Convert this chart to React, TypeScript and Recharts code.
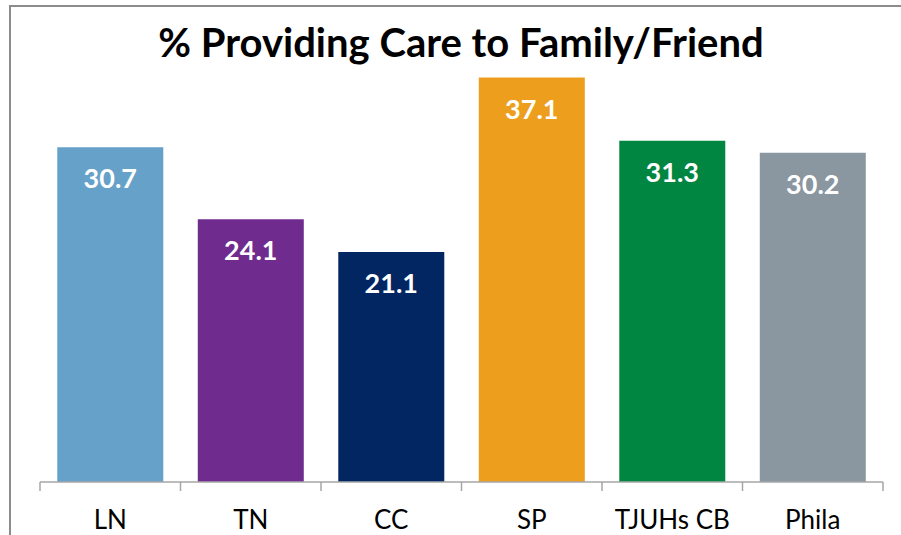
import { BarChart, Bar, XAxis, YAxis, Cell, LabelList } from "recharts";

const categories = ["LN", "TN", "CC", "SP", "TJUHs CB", "Phila"];
const percents = [30.7, 24.1, 21.1, 37.1, 31.3, 30.2];
const barColors = ["#65a1c9", "#6f2c8e", "#012662", "#ed9e1c", "#008641", "#8a96a0"];

const data = categories.map((name, i) => ({ name, value: percents[i] }));

const FONT = "Lato, 'Open Sans', sans-serif";
const AXIS_GREY = "#a6a6a6";

function ValueLabel(props: any) {
  const { x, y, width, value } = props;
  return (
    <text
      x={x + width / 2}
      y={y + 41}
      textAnchor="middle"
      fill="#ffffff"
      fontFamily={FONT}
      fontWeight={700}
      fontSize={27}
    >
      {value}
    </text>
  );
}

// category label plus the tick marks at the band edges
function CategoryTick(props: any) {
  const { x, y, payload } = props;
  const half = payload.offset ?? 0;
  const isLast = payload.index === categories.length - 1;
  return (
    <g>
      <line x1={x - half} x2={x - half} y1={y} y2={y + 9} stroke={AXIS_GREY} strokeWidth={1.5} />
      {isLast && (
        <line x1={x + half} x2={x + half} y1={y} y2={y + 9} stroke={AXIS_GREY} strokeWidth={1.5} />
      )}
      <text x={x} y={y + 47} textAnchor="middle" fontFamily={FONT} fontSize={26} fill="#000">
        {payload.value}
      </text>
    </g>
  );
}

export default function App() {
  return (
    <div
      style={{
        position: "absolute",
        left: 0,
        top: 0,
        width: 901,
        height: 535,
        overflow: "hidden",
        background: "#fff",
      }}
    >
      <div
        style={{
          position: "absolute",
          left: 9,
          top: 5,
          width: 920,
          height: 560,
          border: "2px solid #8c8c8c",
        }}
      />
      <div
        style={{
          position: "absolute",
          left: 0,
          width: 922,
          top: 22,
          textAlign: "center",
          fontFamily: FONT,
          fontWeight: 700,
          fontSize: 40,
          lineHeight: "40px",
          color: "#000",
        }}
      >
        % Providing Care to Family/Friend
      </div>
      <div style={{ position: "absolute", left: 0, top: 0 }}>
        <BarChart
          width={901}
          height={535}
          data={data}
          margin={{ top: 46, right: 18, bottom: 0, left: 40 }}
          barCategoryGap="12.3%"
        >
          <XAxis
            dataKey="name"
            axisLine={{ stroke: AXIS_GREY, strokeWidth: 1.5 }}
            tickLine={false}
            tickSize={0}
            tickMargin={0}
            height={53}
            tick={<CategoryTick />}
            interval={0}
          />
          <YAxis hide domain={[0, 40]} width={0} />
          <Bar dataKey="value" isAnimationActive={false}>
            {data.map((d, i) => (
              <Cell key={d.name} fill={barColors[i]} />
            ))}
            <LabelList dataKey="value" content={ValueLabel} />
          </Bar>
        </BarChart>
      </div>
    </div>
  );
}
